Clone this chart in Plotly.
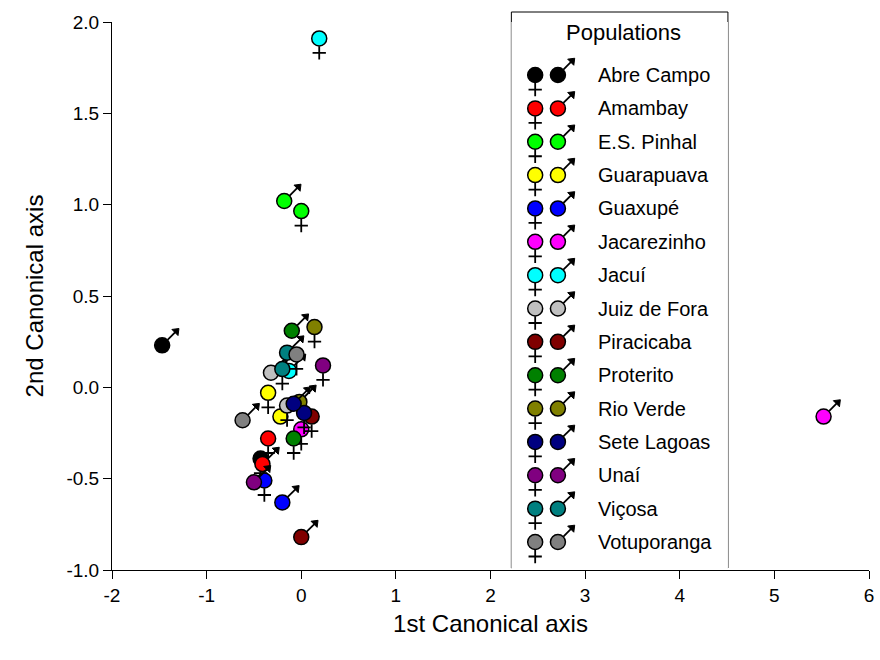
import plotly.graph_objects as go

populations = ["Abre Campo", "Amambay", "E.S. Pinhal", "Guarapuava", "Guaxupé",
               "Jacarezinho", "Jacuí", "Juiz de Fora", "Piracicaba", "Proterito",
               "Rio Verde", "Sete Lagoas", "Unaí", "Viçosa", "Votuporanga"]
colors = ["#000000", "#ff0000", "#00ff00", "#ffff00", "#0000ff",
          "#ff00ff", "#00ffff", "#c0c0c0", "#800000", "#008000",
          "#808000", "#000080", "#800080", "#008080", "#808080"]

female_x = [-0.43, -0.35, 0.00, -0.35, -0.39, 0.00, 0.19, -0.15, 0.11, -0.08, 0.14, 0.03, 0.23, -0.20, -0.05]
female_y = [-0.39, -0.28, 0.965, -0.03, -0.51, -0.23, 1.91, -0.10, -0.16, -0.28, 0.33, -0.14, 0.12, 0.10, 0.18]
male_x = [-1.47, -0.41, -0.18, -0.22, -0.20, 5.52, -0.13, -0.32, 0.00, -0.10, -0.02, -0.08, -0.50, -0.15, -0.62]
male_y = [0.23, -0.42, 1.02, -0.16, -0.63, -0.16, 0.09, 0.08, -0.82, 0.31, -0.08, -0.09, -0.52, 0.19, -0.18]

x_ticks = [-2, -1, 0, 1, 2, 3, 4, 5, 6]
x_ticktext = ["-2", "-1", "0", "1", "2", "3", "4", "5", "6"]
y_ticks = [-1.0, -0.5, 0.0, 0.5, 1.0, 1.5, 2.0]
y_ticktext = ["-1.0", "-0.5", "0.0", "0.5", "1.0", "1.5", "2.0"]

CIRCLE = 15
FONT = "Arial, Liberation Sans, sans-serif"


def add_female(fig, xs, ys, cols, xaxis="x", yaxis="y"):
    fig.add_trace(go.Scatter(
        x=xs, y=ys, mode="markers", xaxis=xaxis, yaxis=yaxis, hoverinfo="skip",
        marker=dict(symbol="cross-thin", size=9.5, standoff=14.5,
                    line=dict(color="black", width=1.8)),
        showlegend=False))
    fig.add_trace(go.Scatter(
        x=xs, y=ys, mode="markers", xaxis=xaxis, yaxis=yaxis, hoverinfo="skip",
        marker=dict(symbol="circle", size=CIRCLE, color=cols,
                    line=dict(color="black", width=1.5)),
        showlegend=False))


def add_male(fig, xs, ys, cols, xaxis="x", yaxis="y"):
    fig.add_trace(go.Scatter(
        x=xs, y=ys, mode="markers", xaxis=xaxis, yaxis=yaxis, hoverinfo="skip",
        marker=dict(symbol="line-ns", size=9, angle=225, standoff=14,
                    line=dict(color="black", width=1.8)),
        showlegend=False))
    fig.add_trace(go.Scatter(
        x=xs, y=ys, mode="markers", xaxis=xaxis, yaxis=yaxis, hoverinfo="skip",
        marker=dict(symbol="triangle-down", size=7.5, angle=225, standoff=20,
                    color="black", line=dict(color="black", width=1)),
        showlegend=False))
    fig.add_trace(go.Scatter(
        x=xs, y=ys, mode="markers", xaxis=xaxis, yaxis=yaxis, hoverinfo="skip",
        marker=dict(symbol="circle", size=CIRCLE, color=cols,
                    line=dict(color="black", width=1.5)),
        showlegend=False))


fig = go.Figure()

# data points, population by population
for i in range(len(populations)):
    add_female(fig, [female_x[i]], [female_y[i]], [colors[i]])
    add_male(fig, [male_x[i]], [male_y[i]], [colors[i]])

# custom legend on a secondary axis pair
idx = list(range(len(populations)))
add_female(fig, [0.11] * len(idx), idx, colors, "x2", "y2")
add_male(fig, [0.215] * len(idx), idx, colors, "x2", "y2")

annotations = []
for i, name in enumerate(populations):
    annotations.append(dict(x=0.39, y=i, xref="x2", yref="y2", text=name,
                            showarrow=False, xanchor="left", yanchor="middle",
                            font=dict(family=FONT, size=20, color="black")))
annotations.append(dict(x=0.52, y=-1.27, xref="x2", yref="y2", text="Populations",
                        showarrow=False, xanchor="center", yanchor="middle",
                        font=dict(family=FONT, size=22, color="black")))

L, R, T, B = 112, 6, 22, 90
W, H = 880, 660
pw, ph = W - L - R, H - T - B
lx0 = (514 - L) / pw
lx1 = (732 - L) / pw
ly0 = (H - B - 568) / ph
ly1 = (H - B - 12) / ph

fig.update_layout(
    width=W, height=H,
    margin=dict(l=L, r=R, t=T, b=B),
    paper_bgcolor="white", plot_bgcolor="white",
    font=dict(family=FONT, color="black"),
    xaxis=dict(range=[-2, 6], tickvals=x_ticks, ticktext=x_ticktext, ticks="outside", ticklen=8,
               tickcolor="black", showline=True, linecolor="black", linewidth=1,
               showgrid=False, zeroline=False, tickfont=dict(size=19),
               title=dict(text="1st Canonical axis", font=dict(size=24), standoff=10)),
    yaxis=dict(range=[-1, 2], tickvals=y_ticks, ticktext=y_ticktext, ticks="outside",
               ticklen=8, tickcolor="black", showline=True, linecolor="black",
               linewidth=1, showgrid=False, zeroline=False, tickfont=dict(size=19),
               title=dict(text="2nd Canonical axis", font=dict(size=24), standoff=16)),
    xaxis2=dict(domain=[lx0, lx1], range=[0, 1], visible=False, anchor="y2"),
    yaxis2=dict(domain=[0, 1], range=[14.84, -1.59], visible=False, anchor="x2"),
    shapes=[dict(type="rect", xref="paper", yref="paper", x0=lx0, x1=lx1,
                 y0=ly0, y1=ly1, line=dict(color="black", width=1), layer="below")],
    annotations=annotations,
    showlegend=False,
)

fig.write_html("out.html")
